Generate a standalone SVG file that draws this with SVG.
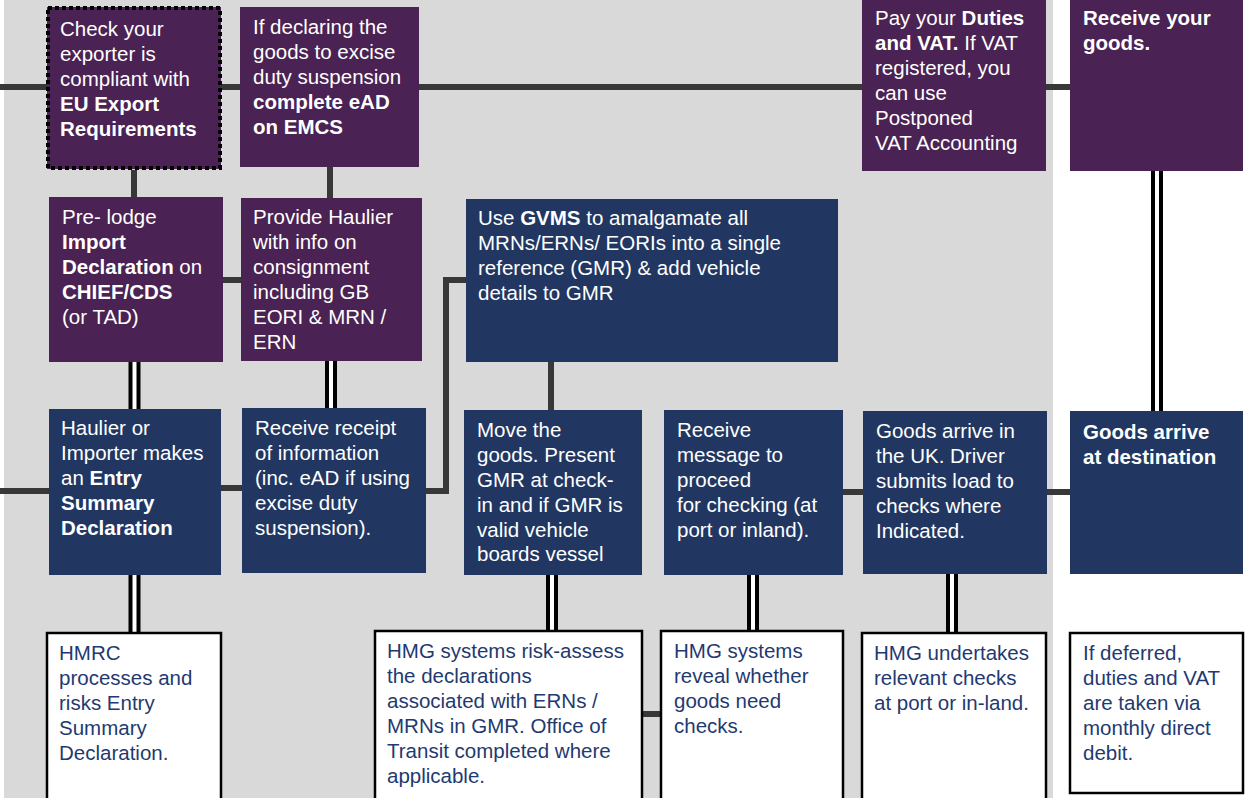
<svg xmlns="http://www.w3.org/2000/svg" width="1252" height="798" viewBox="0 0 1252 798">
<style>
.bg{fill:#d9d9d9}
.p{fill:#4a2253}
.n{fill:#213762}
.w{fill:#ffffff;stroke:#000;stroke-width:2.5}
text{font-family:"Liberation Sans",Arial,sans-serif;font-size:20.5px}
.tw{fill:#ffffff}
.tn{fill:#1f3a70}
.b{font-weight:bold}
.s{fill:none;stroke:#383838;stroke-width:6}
.d1{fill:none;stroke:#000;stroke-width:12}
.d2{fill:none;stroke:#ffffff;stroke-width:4}
</style>
<rect x="0" y="0" width="1252" height="798" fill="#ffffff"/>
<rect class="bg" x="4" y="0" width="1049" height="798"/>
<g id="connectors">
<path class="s" d="M0 87H1070"/>
<path class="s" d="M134 170V197"/>
<path class="s" d="M330 167V198"/>
<path class="s" d="M223 280H241"/>
<path class="s" d="M0 491H49"/>
<path class="s" d="M221 488H242"/>
<path class="s" d="M426 491H446V280H466"/>
<path class="s" d="M551 362V410"/>
<path class="s" d="M642 714H661"/>
<path class="s" d="M843 492H863"/>
<path class="s" d="M1047 492H1070"/>
<path class="d1" d="M134.5 362V409M134.5 575V633M331 361V408M552 575V631M753 575V631M952 574V633M1157 171V411"/>
<path class="d2" d="M134.5 362V409M134.5 575V633M331 361V408M552 575V631M753 575V631M952 574V633M1157 171V411"/>
</g>
<g id="n1"><rect class="p" x="47" y="7" width="174" height="162"/><rect x="48" y="8" width="172" height="160" fill="none" stroke="#000" stroke-width="4" stroke-dasharray="4,3"/>
<text class="tw" x="60"><tspan x="60" y="36">Check your</tspan><tspan x="60" y="61">exporter is</tspan><tspan x="60" y="86">compliant with</tspan><tspan x="60" y="111" class="b">EU Export</tspan><tspan x="60" y="136" class="b">Requirements</tspan></text></g>
<g id="n2"><rect class="p" x="240" y="7" width="179" height="160"/>
<text class="tw"><tspan x="253" y="34">If declaring the</tspan><tspan x="253" y="59">goods to excise</tspan><tspan x="253" y="84">duty suspension</tspan><tspan x="253" y="109" class="b">complete eAD</tspan><tspan x="253" y="134" class="b">on EMCS</tspan></text></g>
<g id="n3"><rect class="p" x="49" y="197" width="174" height="165"/>
<text class="tw"><tspan x="62" y="224">Pre- lodge</tspan><tspan x="62" y="249" class="b">Import</tspan><tspan x="62" y="274"><tspan class="b">Declaration</tspan> on</tspan><tspan x="62" y="299" class="b">CHIEF/CDS</tspan><tspan x="62" y="324">(or TAD)</tspan></text></g>
<g id="n4"><rect class="p" x="241" y="198" width="181" height="163"/>
<text class="tw"><tspan x="253" y="224">Provide Haulier</tspan><tspan x="253" y="249">with info on</tspan><tspan x="253" y="274">consignment</tspan><tspan x="253" y="299">including GB</tspan><tspan x="253" y="324">EORI &amp; MRN /</tspan><tspan x="253" y="349">ERN</tspan></text></g>
<g id="n5"><rect class="n" x="49" y="409" width="172" height="166"/>
<text class="tw"><tspan x="61" y="435">Haulier or</tspan><tspan x="61" y="460">Importer makes</tspan><tspan x="61" y="485">an <tspan class="b">Entry</tspan></tspan><tspan x="61" y="510" class="b">Summary</tspan><tspan x="61" y="535" class="b">Declaration</tspan></text></g>
<g id="n6"><rect class="n" x="242" y="408" width="184" height="165"/>
<text class="tw"><tspan x="255" y="435">Receive receipt</tspan><tspan x="255" y="460">of information</tspan><tspan x="255" y="485">(inc. eAD if using</tspan><tspan x="255" y="510">excise duty</tspan><tspan x="255" y="535">suspension).</tspan></text></g>
<g id="n7"><rect class="w" x="47" y="633" width="174" height="170"/>
<text class="tn"><tspan x="59" y="660">HMRC</tspan><tspan x="59" y="685">processes and</tspan><tspan x="59" y="710">risks Entry</tspan><tspan x="59" y="735">Summary</tspan><tspan x="59" y="760">Declaration.</tspan></text></g>
<g id="n8"><rect class="n" x="466" y="199" width="372" height="163"/>
<text class="tw"><tspan x="478" y="225">Use <tspan class="b">GVMS</tspan> to amalgamate all</tspan><tspan x="478" y="250">MRNs/ERNs/ EORIs into a single</tspan><tspan x="478" y="275">reference (GMR) &amp; add vehicle</tspan><tspan x="478" y="300">details to GMR</tspan></text></g>
<g id="n9"><rect class="n" x="464" y="410" width="178" height="165"/>
<text class="tw"><tspan x="477" y="437">Move the</tspan><tspan x="477" y="462">goods. Present</tspan><tspan x="477" y="487">GMR at check-</tspan><tspan x="477" y="512">in and if GMR is</tspan><tspan x="477" y="537">valid vehicle</tspan><tspan x="477" y="561">boards vessel</tspan></text></g>
<g id="n10"><rect class="n" x="664" y="410" width="179" height="165"/>
<text class="tw"><tspan x="677" y="437">Receive</tspan><tspan x="677" y="462">message to</tspan><tspan x="677" y="487">proceed</tspan><tspan x="677" y="512">for checking (at</tspan><tspan x="677" y="537">port or inland).</tspan></text></g>
<g id="n11"><rect class="n" x="863" y="411" width="184" height="163"/>
<text class="tw"><tspan x="876" y="438">Goods arrive in</tspan><tspan x="876" y="463">the UK. Driver</tspan><tspan x="876" y="488">submits load to</tspan><tspan x="876" y="513">checks where</tspan><tspan x="876" y="538">Indicated.</tspan></text></g>
<g id="n12"><rect class="n" x="1070" y="411" width="173" height="163"/>
<text class="tw b"><tspan x="1083" y="439">Goods arrive</tspan><tspan x="1083" y="464">at destination</tspan></text></g>
<g id="n13"><rect class="p" x="862" y="0" width="184" height="171"/>
<text class="tw"><tspan x="875" y="25">Pay your <tspan class="b">Duties</tspan></tspan><tspan x="875" y="50"><tspan class="b">and VAT.</tspan> If VAT</tspan><tspan x="875" y="75">registered, you</tspan><tspan x="875" y="100">can use</tspan><tspan x="875" y="125">Postponed</tspan><tspan x="875" y="150">VAT Accounting</tspan></text></g>
<g id="n14"><rect class="p" x="1070" y="0" width="173" height="171"/>
<text class="tw b"><tspan x="1083" y="25">Receive your</tspan><tspan x="1083" y="50">goods.</tspan></text></g>
<g id="n15"><rect class="w" x="375" y="631" width="267" height="172"/>
<text class="tn"><tspan x="387" y="658">HMG systems risk-assess</tspan><tspan x="387" y="683">the declarations</tspan><tspan x="387" y="708">associated with ERNs /</tspan><tspan x="387" y="733">MRNs in GMR. Office of</tspan><tspan x="387" y="758">Transit completed where</tspan><tspan x="387" y="783">applicable.</tspan></text></g>
<g id="n16"><rect class="w" x="661" y="631" width="182" height="172"/>
<text class="tn"><tspan x="674" y="658">HMG systems</tspan><tspan x="674" y="683">reveal whether</tspan><tspan x="674" y="708">goods need</tspan><tspan x="674" y="733">checks.</tspan></text></g>
<g id="n17"><rect class="w" x="862" y="633" width="184" height="170"/>
<text class="tn"><tspan x="874" y="660">HMG undertakes</tspan><tspan x="874" y="685">relevant checks</tspan><tspan x="874" y="710">at port or in-land.</tspan></text></g>
<g id="n18"><rect class="w" x="1070" y="633" width="173" height="160"/>
<text class="tn"><tspan x="1083" y="660">If deferred,</tspan><tspan x="1083" y="685">duties and VAT</tspan><tspan x="1083" y="710">are taken via</tspan><tspan x="1083" y="735">monthly direct</tspan><tspan x="1083" y="760">debit.</tspan></text></g>
</svg>
